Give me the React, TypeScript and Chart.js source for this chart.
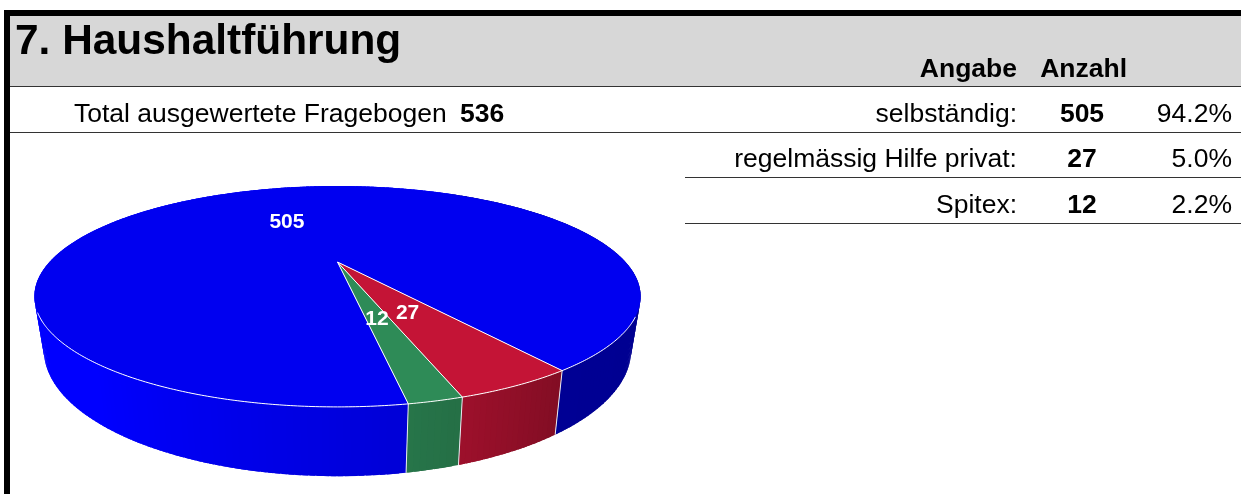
import React, { useEffect, useRef } from "react";
import { Chart, registerables } from "chart.js";

Chart.register(...registerables);

const title = "7. Haushaltführung";
const totalLabel = "Total ausgewertete Fragebogen";
const totalValue = "536";
const headerLabel = "Angabe";
const headerCount = "Anzahl";
const categories = ["selbständig:", "regelmässig Hilfe privat:", "Spitex:"];
const counts = [505, 27, 12];
const percents = ["94.2%", "5.0%", "2.2%"];
const sliceColors = ["#0000f0", "#c41436", "#2e8b57"];
const wallColors = [
  [0, 0, 255],
  [196, 20, 54],
  [46, 139, 87],
];

const FONT = '"Liberation Sans", Arial, Helvetica, sans-serif';
const D = Math.PI / 180;

// Perspective view of the disc: top rim and bottom rim of the cylinder.
const K = -0.312;
const TOP = { a: 288, b: 99.7, ox: 337.5, oy: 262 };
const BOTTOM = { a: 279, b: 114, ox: 337.5, oy: 310.5 };
const project = (rim: typeof TOP, ang: number, r = 1) => {
  const u = r * Math.cos(ang);
  const v = r * Math.sin(ang);
  const w = 1 + K * v;
  return [rim.ox + (rim.a * u) / w, rim.oy + (rim.b * v) / w];
};

// Wall lighting by angle (degrees, clockwise from east).
const shadeStops = [
  [-30, 0.55],
  [54, 0.58],
  [54.01, 0.66],
  [72, 0.8],
  [80, 0.84],
  [130, 1],
  [300, 1],
];
const shadeAt = (deg: number) => {
  let d = deg % 360;
  if (d > 300) d -= 360;
  for (let i = 1; i < shadeStops.length; i++) {
    const [a, sa] = shadeStops[i - 1];
    const [b, sb] = shadeStops[i];
    if (d <= b) return sa + ((sb - sa) * (d - a)) / (b - a);
  }
  return 1;
};

const RIM_FROM = 28 * D;
const RIM_TO = 154 * D;

const perspectivePie = {
  id: "perspectivePie",
  beforeDatasetsDraw(chart: any) {
    const ctx: CanvasRenderingContext2D = chart.ctx;
    const arcs = chart.getDatasetMeta(0).data;
    ctx.save();
    ctx.lineJoin = "round";

    // side walls: overlapping strips so that no seams show
    arcs.forEach((arc: any, i: number) => {
      const [r, g, b] = wallColors[i];
      const steps = Math.max(2, Math.ceil((arc.endAngle - arc.startAngle) / D));
      const da = (arc.endAngle - arc.startAngle) / steps;
      for (let s = 0; s < steps; s++) {
        const a0 = arc.startAngle + s * da;
        const a1 = s === steps - 1 ? a0 + da : a0 + da * 1.8;
        const sh = shadeAt((a0 + da / 2) / D + 360);
        const p = [project(TOP, a0), project(TOP, a1), project(BOTTOM, a1), project(BOTTOM, a0)];
        ctx.beginPath();
        p.forEach(([x, y], k) => (k ? ctx.lineTo(x, y) : ctx.moveTo(x, y)));
        ctx.closePath();
        ctx.fillStyle = `rgb(${r * sh},${g * sh},${b * sh})`;
        ctx.fill();
      }
    });
    // wall dividers
    ctx.strokeStyle = "#e8e8f0";
    ctx.lineWidth = 1;
    arcs.forEach((arc: any) => {
      const [x0, y0] = project(TOP, arc.startAngle);
      const [x1, y1] = project(BOTTOM, arc.startAngle);
      ctx.beginPath();
      ctx.moveTo(x0, y0);
      ctx.lineTo(x1, y1);
      ctx.stroke();
    });

    // top face
    const apex = project(TOP, 0, 0);
    arcs.forEach((arc: any, i: number) => {
      const steps = Math.max(4, Math.ceil((arc.endAngle - arc.startAngle) / (0.5 * D)));
      ctx.beginPath();
      ctx.moveTo(apex[0], apex[1]);
      for (let s = 0; s <= steps; s++) {
        const [x, y] = project(TOP, arc.startAngle + ((arc.endAngle - arc.startAngle) * s) / steps);
        ctx.lineTo(x, y);
      }
      ctx.closePath();
      ctx.fillStyle = sliceColors[i];
      ctx.fill();
    });
    // slice edges
    ctx.strokeStyle = "#ffffff";
    ctx.lineWidth = 1;
    arcs.forEach((arc: any) => {
      const [x, y] = project(TOP, arc.startAngle);
      ctx.beginPath();
      ctx.moveTo(apex[0], apex[1]);
      ctx.lineTo(x, y);
      ctx.stroke();
    });
    // front rim
    ctx.beginPath();
    for (let a = RIM_FROM; a <= RIM_TO; a += 0.5 * D) {
      const [x, y] = project(TOP, a);
      if (a === RIM_FROM) ctx.moveTo(x, y);
      else ctx.lineTo(x, y);
    }
    ctx.stroke();

    // value labels
    ctx.fillStyle = "#ffffff";
    ctx.font = `bold 21px ${FONT}`;
    ctx.textAlign = "center";
    ctx.textBaseline = "middle";
    arcs.forEach((arc: any, i: number) => {
      const [x, y] = project(TOP, (arc.startAngle + arc.endAngle) / 2, 0.5);
      const nudge = i === 1 ? -5 : i === 2 ? -1 : -2;
      ctx.fillText(String(counts[i]), x + nudge, y - (i === 1 ? 1 : 0));
    });
    ctx.restore();
    return false;
  },
};

const text = (base: number, size: number, bold: boolean, style: React.CSSProperties): React.CSSProperties => ({
  position: "absolute",
  whiteSpace: "nowrap",
  fontFamily: FONT,
  color: "#000",
  top: base - 0.93 * size,
  height: size * 1.2,
  lineHeight: `${size * 1.2}px`,
  fontSize: size,
  fontWeight: bold ? 700 : 400,
  ...style,
});
const rect = (left: number, top: number, width: number, height: number, background: string): React.CSSProperties => ({
  position: "absolute",
  left,
  top,
  width,
  height,
  background,
});

const BODY = 26.5;
const rowBase = [123, 168, 214];

export default function App() {
  const ref = useRef<HTMLCanvasElement>(null);
  useEffect(() => {
    const chart = new Chart(ref.current as HTMLCanvasElement, {
      type: "pie",
      data: {
        labels: categories,
        datasets: [{ data: counts, backgroundColor: sliceColors, borderWidth: 0 }],
      },
      options: {
        responsive: false,
        animation: false,
        rotation: 170.2,
        plugins: { legend: { display: false }, tooltip: { enabled: false } },
      },
      plugins: [perspectivePie],
    } as any);
    return () => chart.destroy();
  }, []);

  return (
    <div style={{ position: "absolute", left: 0, top: 0, width: 1241, height: 494, overflow: "hidden", background: "#fff" }}>
      <div style={rect(10, 16, 1231, 70, "#d7d7d7")} />
      <div style={rect(4, 10, 1237, 6, "#000")} />
      <div style={rect(4, 10, 6, 484, "#000")} />
      <div style={rect(10, 86, 1231, 1, "#333")} />
      <div style={rect(10, 132, 1231, 1, "#333")} />
      <div style={rect(685, 177, 556, 1, "#333")} />
      <div style={rect(685, 223, 556, 1, "#333")} />
      <canvas ref={ref} width={1241} height={494} style={{ position: "absolute", left: 0, top: 0, display: "block" }} />
      <div style={text(54, 42.4, true, { left: 15 })}>{title}</div>
      <div style={text(rowBase[0], BODY, false, { left: 74 })}>{totalLabel}</div>
      <div style={text(rowBase[0], BODY, true, { left: 460 })}>{totalValue}</div>
      <div style={text(77.5, BODY, true, { right: 1241 - 1017 })}>{headerLabel}</div>
      <div style={text(77.5, BODY, true, { right: 1241 - 1127 })}>{headerCount}</div>
      {categories.map((c, i) => (
        <React.Fragment key={c}>
          <div style={text(rowBase[i], BODY, false, { right: 1241 - 1017 })}>{c}</div>
          <div style={text(rowBase[i], BODY, true, { left: 1032, width: 100, textAlign: "center" })}>{counts[i]}</div>
          <div style={text(rowBase[i], BODY, false, { right: 1241 - 1232 })}>{percents[i]}</div>
        </React.Fragment>
      ))}
    </div>
  );
}
